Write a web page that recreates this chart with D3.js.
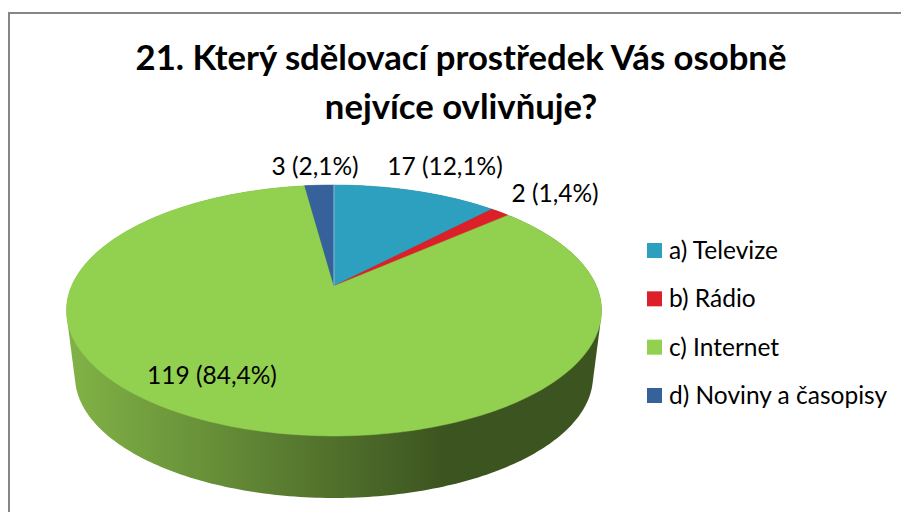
<!DOCTYPE html>
<html>
<head>
<meta charset="utf-8">
<script src="https://cdn.jsdelivr.net/npm/d3@7"></script>
<style>
  html, body { margin: 0; padding: 0; background: #fff; }
  svg { display: block; }
  text { font-family: Lato, "Noto Sans", sans-serif; fill: #000; }
</style>
</head>
<body>
<svg></svg>
<script>
var titleLines = ["21. Který sdělovací prostředek Vás osobně", "nejvíce ovlivňuje?"];
var categories = ["a) Televize", "b) Rádio", "c) Internet", "d) Noviny a časopisy"];
var values = [17, 2, 119, 3];
var colors = ["#2da0bf", "#dc1f28", "#92d050", "#36619b"];
var labelSpots = [[445, 166], [555, 193], [212, 375], [315, 166]]; // centre of each data label

var svgWidth = 901, svgHeight = 512;

var svg = d3.select("svg")
    .attr("width", svgWidth)
    .attr("height", svgHeight);

// frame of the chart, only top and left are inside the crop
svg.append("path")
    .attr("d", "M9,512V13H901")
    .attr("fill", "none")
    .attr("stroke", "#868686")
    .attr("stroke-width", 2);

svg.selectAll(".title")
    .data(titleLines)
    .enter()
    .append("text")
    .attr("class", "title")
    .attr("x", 461)
    .attr("y", function(d, i) { return 70 + i * 49; })
    .attr("text-anchor", "middle")
    .attr("font-size", 34.7)
    .attr("font-weight", 700)
    .text(function(d) { return d; });

// tilted pie: circle through a perspective projection
var cx = 334, cy = 286;
var radiusX = 262.4, radiusY = 120.7, tilt = 0.195;

function project(angle, scale, drop) {
    var u = Math.sin(angle), v = -Math.cos(angle);
    var w = 1 - tilt * v;
    return [cx + scale * radiusX * u / w, cy + drop + scale * radiusY * v / w];
}

function rim(start, end, scale, drop) {
    var n = Math.max(2, Math.ceil((end - start) * 60));
    return d3.range(n + 1).map(function(i) {
        return project(start + (end - start) * i / n, scale, drop);
    });
}

var pie = d3.pie().sort(null)(values);
var line = d3.line();

// side wall, hull of the top rim and the bottom rim
var defs = svg.append("defs");
var wall = defs.append("linearGradient")
    .attr("id", "wall")
    .attr("gradientUnits", "userSpaceOnUse")
    .attr("x1", 75).attr("x2", 445)
    .attr("y1", 0).attr("y2", 0);
wall.append("stop").attr("offset", 0).attr("stop-color", "#80b146");
wall.append("stop").attr("offset", 1).attr("stop-color", "#3c5420");

var hull = d3.polygonHull(rim(0, 2 * Math.PI, 1, 0).concat(rim(0, 2 * Math.PI, 0.968, 66.8)));
svg.append("path")
    .attr("d", line(hull) + "Z")
    .attr("fill", "url(#wall)");

// top face
svg.selectAll(".slice")
    .data(pie)
    .enter()
    .append("path")
    .attr("class", "slice")
    .attr("d", function(d) {
        return line([[cx, cy]].concat(rim(d.startAngle, d.endAngle, 1, 0))) + "Z";
    })
    .attr("fill", function(d, i) { return colors[i]; })
    .attr("stroke", function(d, i) { return colors[i]; })
    .attr("stroke-width", 0.5);

// pale edge where the first slice starts
svg.append("path")
    .attr("d", line([[cx, cy], project(pie[0].startAngle, 1, 0)]))
    .attr("stroke", "#8cc7d9")
    .attr("stroke-width", 1);

var czech = d3.formatLocale({ decimal: ",", thousands: " ", grouping: [3], currency: ["", " Kč"] });
var pct = czech.format(".1%");
var total = d3.sum(values);

svg.selectAll(".label")
    .data(values)
    .enter()
    .append("text")
    .attr("class", "label")
    .attr("x", function(d, i) { return labelSpots[i][0]; })
    .attr("y", function(d, i) { return labelSpots[i][1]; })
    .attr("dy", "0.35em")
    .attr("text-anchor", "middle")
    .attr("font-size", 24.5)
    .text(function(d) { return d + " (" + pct(d / total) + ")"; });

// legend
var legendY = d3.scalePoint()
    .domain(categories)
    .range([250.5, 395.5]);

var legend = svg.selectAll(".legend")
    .data(categories)
    .enter()
    .append("g")
    .attr("class", "legend")
    .attr("transform", function(d) { return "translate(647," + legendY(d) + ")"; });

legend.append("rect")
    .attr("y", -7.5)
    .attr("width", 15)
    .attr("height", 15)
    .attr("fill", function(d, i) { return colors[i]; });

legend.append("text")
    .attr("x", 22)
    .attr("dy", "0.35em")
    .attr("font-size", 24.5)
    .text(function(d) { return d; });
</script>
</body>
</html>
